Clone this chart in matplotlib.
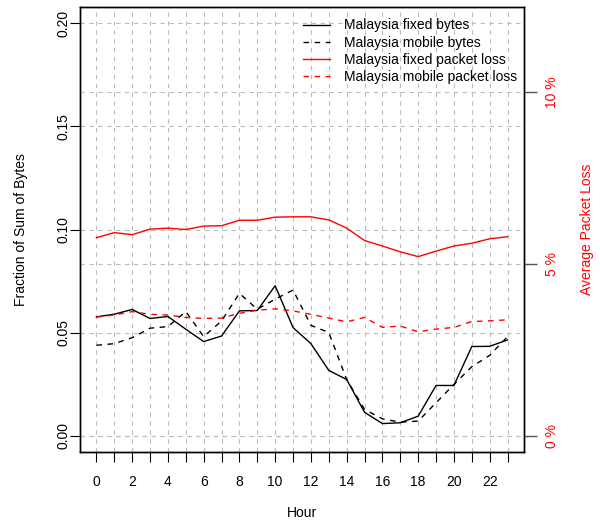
import matplotlib.pyplot as plt
import numpy as np

plt.rcParams['font.family'] = ['Liberation Sans', 'DejaVu Sans']

hours = list(range(24))
fixed_bytes = [0.0576, 0.0589, 0.0612, 0.0568, 0.0578, 0.0516, 0.0456, 0.0483,
               0.0605, 0.0607, 0.0727, 0.0524, 0.0446, 0.0316, 0.0272, 0.0113,
               0.0058, 0.0062, 0.0094, 0.0243, 0.0243, 0.0432, 0.0433, 0.0464]
mobile_bytes = [0.0438, 0.0446, 0.0475, 0.0521, 0.0529, 0.0602, 0.0480, 0.0556,
                0.0690, 0.0613, 0.0662, 0.0706, 0.0535, 0.0500, 0.0272, 0.0127,
                0.0081, 0.0065, 0.0070, 0.0159, 0.0248, 0.0334, 0.0389, 0.0480]
fixed_loss = [5.76, 5.91, 5.85, 6.01, 6.04, 6.00, 6.10, 6.11, 6.27, 6.27, 6.36, 6.37,
              6.37, 6.28, 6.04, 5.68, 5.52, 5.35, 5.21, 5.37, 5.52, 5.60, 5.73, 5.79]
mobile_loss = [3.45, 3.51, 3.61, 3.53, 3.51, 3.44, 3.41, 3.42, 3.56, 3.65, 3.69, 3.63,
               3.53, 3.42, 3.31, 3.44, 3.15, 3.19, 3.02, 3.10, 3.15, 3.32, 3.34, 3.37]

left_ticks = [0.0, 0.05, 0.10, 0.15, 0.20]
right_ticks = [0, 5, 10]
right_labels = ['0 %', '5 %', '10 %']

FS = 10

fig = plt.figure(figsize=(6, 5.25), dpi=100)
ax = fig.add_axes([0.1333, 0.139, 0.74, 0.8477])
ax2 = ax.twinx()

grid_kw = dict(color='#bdbdbd', linestyle=(0, (4, 4)), linewidth=0.8)

# bytes on the left axis
l1, = ax.plot(hours, fixed_bytes, color='black', lw=1.0, label='Malaysia fixed bytes')
l2, = ax.plot(hours, mobile_bytes, color='black', lw=1.0, linestyle=(0, (4, 4)),
              label='Malaysia mobile bytes')
ax.set_xlim(-0.92, 23.92)
ax.set_ylim(-0.008, 0.208)
ax.set_xticks(hours)
ax.set_xticklabels([str(h) if h % 2 == 0 else '' for h in hours])
ax.set_yticks(left_ticks)
ax.set_yticklabels(['%.2f' % v for v in left_ticks], rotation=90, va='center')
ax.tick_params(axis='both', direction='out', length=7, width=0.8, labelsize=FS)
ax.tick_params(axis='y', pad=0)
ax.tick_params(axis='x', pad=9.5)
ax.grid(True, **grid_kw)
ax.set_axisbelow(True)
ax.set_xlabel('Hour', fontsize=FS, labelpad=12)
ax.set_ylabel('Fraction of Sum of Bytes', fontsize=FS, labelpad=20)

# packet loss on the right axis
l3, = ax2.plot(hours, fixed_loss, color='red', lw=1.0, label='Malaysia fixed packet loss')
l4, = ax2.plot(hours, mobile_loss, color='red', lw=1.0, linestyle=(0, (4, 4)),
               label='Malaysia mobile packet loss')
ax2.set_ylim(-0.48, 12.48)
ax2.set_yticks(right_ticks)
ax2.set_yticklabels(right_labels, rotation=90, va='center', color='red')
ax2.tick_params(axis='y', direction='out', length=9, width=1.0, color='#555555',
                labelsize=FS, pad=6)
ax2.yaxis.grid(True, **grid_kw)
ax2.set_ylabel('Average Packet Loss', color='red', fontsize=FS, labelpad=15)

for a in (ax, ax2):
    for s in a.spines.values():
        s.set_linewidth(1.0)

ax2.legend(handles=[l1, l2, l3, l4], loc='upper right', bbox_to_anchor=(1.0056, 0.996),
           frameon=False, fontsize=FS, handlelength=1.9, handletextpad=1.0,
           labelspacing=0.22, borderaxespad=0.3)

fig.savefig('out.png', dpi=100)
